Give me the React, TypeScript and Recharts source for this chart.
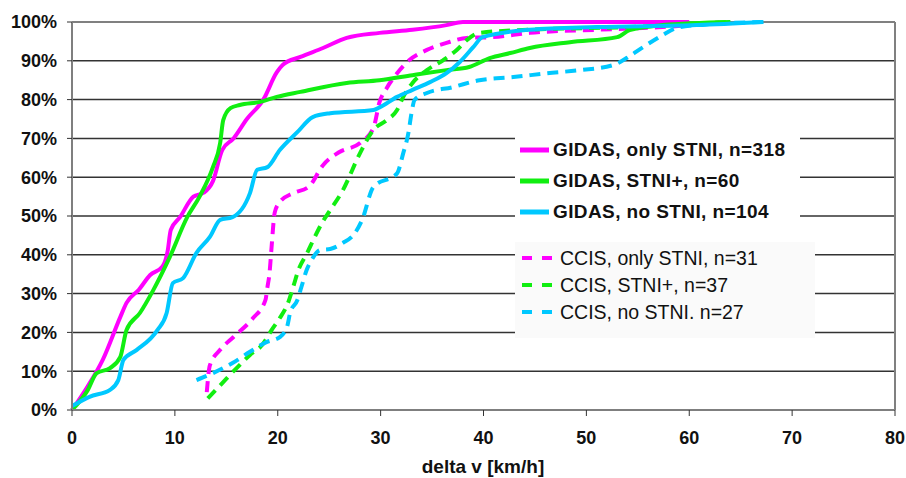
import { LineChart, Line, XAxis, YAxis, CartesianGrid, ReferenceLine } from "recharts";

// cumulative share of cases (%) by delta v (km/h)
const gidasOnlyStni = [
  { v: 0, p: 0 }, { v: 1.5, p: 6 }, { v: 3, p: 13 }, { v: 4.7, p: 24 }, { v: 5.3, p: 27.6 },
  { v: 6.5, p: 31 }, { v: 7.6, p: 34.8 }, { v: 8.8, p: 37 }, { v: 9.3, p: 41 }, { v: 9.6, p: 46.4 },
  { v: 10.5, p: 49.7 }, { v: 11.8, p: 55 }, { v: 12.8, p: 56 }, { v: 13.7, p: 59 }, { v: 14.6, p: 67 },
  { v: 15.7, p: 70 }, { v: 17, p: 75 }, { v: 18.6, p: 80 }, { v: 19.9, p: 87 }, { v: 20.5, p: 89 },
  { v: 22.2, p: 91 }, { v: 24.4, p: 93.3 }, { v: 26.7, p: 95.9 }, { v: 29.9, p: 97.2 }, { v: 33.1, p: 98 },
  { v: 36.4, p: 99.2 }, { v: 38, p: 100 }, { v: 60, p: 100 },
];

const gidasStniPlus = [
  { v: 0, p: 0 }, { v: 1.5, p: 5 }, { v: 2.4, p: 9.5 }, { v: 3.7, p: 10.8 }, { v: 4.7, p: 13.7 },
  { v: 5.3, p: 20.6 }, { v: 6.6, p: 25 }, { v: 7.9, p: 30.9 }, { v: 9.5, p: 39.4 }, { v: 11.2, p: 49.7 },
  { v: 12.4, p: 55 }, { v: 13.7, p: 62.6 }, { v: 14.4, p: 68.8 }, { v: 14.7, p: 74.7 }, { v: 15.4, p: 77.8 },
  { v: 16.3, p: 78.6 }, { v: 18.3, p: 79.4 }, { v: 19.9, p: 80.7 }, { v: 22.2, p: 82 }, { v: 26.7, p: 84.3 },
  { v: 29.9, p: 85 }, { v: 33.1, p: 86.3 }, { v: 36.4, p: 87.6 }, { v: 38.6, p: 88.4 }, { v: 40.6, p: 90.7 },
  { v: 42.6, p: 92 }, { v: 44.5, p: 93.3 }, { v: 48.4, p: 94.8 }, { v: 53, p: 96.1 }, { v: 54.2, p: 97.9 },
  { v: 57.4, p: 99.2 }, { v: 64, p: 100 },
];

const gidasNoStni = [
  { v: 0, p: 1 }, { v: 1.7, p: 3.4 }, { v: 3.7, p: 5.2 }, { v: 4.5, p: 7.7 }, { v: 5, p: 12.9 },
  { v: 6.3, p: 15.5 }, { v: 8.3, p: 20.6 }, { v: 9.2, p: 25 }, { v: 9.8, p: 32.7 }, { v: 10.8, p: 34 },
  { v: 12.1, p: 40.5 }, { v: 13.4, p: 44.6 }, { v: 14.4, p: 49 }, { v: 15.6, p: 49.7 }, { v: 17.3, p: 55.9 },
  { v: 18, p: 61.9 }, { v: 19, p: 62.6 }, { v: 20.2, p: 67 }, { v: 21.9, p: 71.6 }, { v: 23.4, p: 75.5 },
  { v: 25.1, p: 76.5 }, { v: 29.3, p: 77.3 }, { v: 29.9, p: 78 }, { v: 31.6, p: 80.7 }, { v: 33.1, p: 82.5 },
  { v: 34.8, p: 84.5 }, { v: 36.4, p: 86.8 }, { v: 37.7, p: 89.7 }, { v: 39, p: 93.5 }, { v: 39.9, p: 96.1 },
  { v: 44.5, p: 98 }, { v: 51, p: 98.7 }, { v: 60.7, p: 99.2 }, { v: 67.2, p: 100 },
];

const ccisOnlyStni = [
  { v: 13.1, p: 4.6 }, { v: 13.4, p: 11.5 }, { v: 14.4, p: 15.5 }, { v: 15.7, p: 18.8 }, { v: 17.6, p: 23.7 },
  { v: 18.8, p: 28.3 }, { v: 19, p: 31.7 }, { v: 19.2, p: 35.3 }, { v: 19.4, p: 42 }, { v: 19.7, p: 50.8 },
  { v: 20.2, p: 53.6 }, { v: 21.5, p: 55.9 }, { v: 23, p: 57.5 }, { v: 24.4, p: 63.1 }, { v: 26, p: 66.5 },
  { v: 28, p: 68.8 }, { v: 29.3, p: 72.7 }, { v: 29.9, p: 79.4 }, { v: 30.6, p: 83 }, { v: 31.6, p: 86.8 },
  { v: 32.8, p: 90.2 }, { v: 34.5, p: 92.8 }, { v: 36.4, p: 94.6 }, { v: 38.4, p: 95.9 }, { v: 40.9, p: 96.1 },
  { v: 44.5, p: 97.2 }, { v: 51, p: 98 }, { v: 57.4, p: 98.7 }, { v: 63.6, p: 100 },
];

const ccisStniPlus = [
  { v: 13.2, p: 3 }, { v: 14.7, p: 7.2 }, { v: 16, p: 10.8 }, { v: 17.3, p: 14.2 }, { v: 18.5, p: 16.8 },
  { v: 19.4, p: 20.6 }, { v: 20.2, p: 23.7 }, { v: 21, p: 27.6 }, { v: 21.5, p: 31.7 }, { v: 22, p: 36 },
  { v: 22.9, p: 40.7 }, { v: 23.6, p: 44.6 }, { v: 24.3, p: 48.2 }, { v: 25.1, p: 51.5 }, { v: 26.3, p: 56.5 },
  { v: 28, p: 66.2 }, { v: 29.3, p: 72.2 }, { v: 30.6, p: 74.7 }, { v: 31.6, p: 77.3 }, { v: 32.2, p: 80.7 },
  { v: 33.1, p: 84.3 }, { v: 34.5, p: 87.6 }, { v: 36.1, p: 90.2 }, { v: 37.4, p: 92.8 }, { v: 38.4, p: 95.4 },
  { v: 39.6, p: 97.2 }, { v: 44.5, p: 98 }, { v: 54.2, p: 98.7 }, { v: 64, p: 100 },
];

const ccisNoStni = [
  { v: 12.1, p: 7.7 }, { v: 13.7, p: 9.5 }, { v: 15.6, p: 12.1 }, { v: 17.3, p: 15 }, { v: 18.9, p: 17.5 },
  { v: 20.2, p: 18.8 }, { v: 20.9, p: 21.4 }, { v: 21.2, p: 25 }, { v: 21.9, p: 28.3 }, { v: 22.3, p: 31.7 },
  { v: 22.8, p: 36 }, { v: 23.3, p: 38.7 }, { v: 24.1, p: 41.2 }, { v: 25.1, p: 41.5 }, { v: 26.3, p: 43 },
  { v: 27.5, p: 45.6 }, { v: 28.2, p: 49 }, { v: 29.3, p: 57.5 }, { v: 31.6, p: 61 }, { v: 32.2, p: 66.2 },
  { v: 32.7, p: 71.4 }, { v: 33, p: 76.5 }, { v: 33.3, p: 79.9 }, { v: 34.5, p: 81.7 }, { v: 37, p: 83.2 },
  { v: 39.6, p: 85 }, { v: 42.9, p: 85.8 }, { v: 46.2, p: 86.8 }, { v: 49.4, p: 87.6 }, { v: 52.6, p: 88.9 },
  { v: 53.9, p: 90.7 }, { v: 55.5, p: 93.5 }, { v: 57.4, p: 96.6 }, { v: 58.8, p: 98.5 }, { v: 60.7, p: 99.2 },
  { v: 67.2, p: 100 },
];

const xTicks = [0, 10, 20, 30, 40, 50, 60, 70, 80];
const yTicks = [0, 10, 20, 30, 40, 50, 60, 70, 80, 90, 100];

const MAGENTA = "#ff00ff";
const GREEN = "#11ee11";
const CYAN = "#00c8ff";

const gidasSeries = [
  { name: "GIDAS, only STNI, n=318", data: gidasOnlyStni, color: MAGENTA },
  { name: "GIDAS, STNI+, n=60", data: gidasStniPlus, color: GREEN },
  { name: "GIDAS, no STNI, n=104", data: gidasNoStni, color: CYAN },
];

const ccisSeries = [
  { name: "CCIS, only STNI, n=31", data: ccisOnlyStni, color: MAGENTA },
  { name: "CCIS, STNI+, n=37", data: ccisStniPlus, color: GREEN },
  { name: "CCIS, no STNI. n=27", data: ccisNoStni, color: CYAN },
];

const FONT = "'Liberation Sans', Arial, sans-serif";
const DASH = "11 7";

function LegendBoxes() {
  return (
    <>
      <div
        style={{
          position: "absolute", left: 515, top: 132, width: 285, height: 96,
          background: "#fff", fontFamily: FONT, fontWeight: "bold", fontSize: 19, color: "#111",
          letterSpacing: 0.4,
        }}
      >
        {gidasSeries.map((s, i) => (
          <div key={s.name} style={{ position: "absolute", left: 5, top: 6 + i * 31, display: "flex", alignItems: "center", height: 24 }}>
            <svg width={30} height={6} style={{ marginRight: 3 }}>
              <line x1={0} y1={3} x2={29} y2={3} stroke={s.color} strokeWidth={5} />
            </svg>
            <span>{s.name}</span>
          </div>
        ))}
      </div>
      <div
        style={{
          position: "absolute", left: 515, top: 242, width: 300, height: 96,
          background: "#fafafa", fontFamily: FONT, fontSize: 19.5, color: "#111",
        }}
      >
        {ccisSeries.map((s, i) => (
          <div key={s.name} style={{ position: "absolute", left: 7, top: 4 + i * 27, display: "flex", alignItems: "center", height: 24 }}>
            <svg width={32} height={6} style={{ marginRight: 6 }}>
              <line x1={0} y1={3} x2={31} y2={3} stroke={s.color} strokeWidth={4} strokeDasharray="10 10" />
            </svg>
            <span>{s.name}</span>
          </div>
        ))}
      </div>
    </>
  );
}

export default function App() {
  return (
    <div style={{ position: "absolute", left: 0, top: 0, width: 906, height: 478, background: "#fff" }}>
      <LineChart width={906} height={478} margin={{ top: 22, right: 11, left: 0, bottom: 38 }}>
        <CartesianGrid vertical={false} stroke="#333" strokeWidth={1.5} />
        <XAxis
          type="number"
          dataKey="v"
          domain={[0, 80]}
          ticks={xTicks}
          height={30}
          axisLine={{ stroke: "#7f7f7f", strokeWidth: 2 }}
          tickLine={{ stroke: "#333" }}
          tickSize={6}
          tickMargin={15}
          tick={{ fill: "#111", fontFamily: FONT, fontWeight: "bold", fontSize: 18 }}
          allowDuplicatedCategory={false}
        />
        <YAxis
          type="number"
          domain={[0, 100]}
          ticks={yTicks}
          width={72}
          axisLine={{ stroke: "#7f7f7f", strokeWidth: 2 }}
          tickLine={{ stroke: "#333" }}
          tickSize={5}
          tickMargin={10}
          tickFormatter={(t: number) => `${t}%`}
          tick={{ fill: "#111", fontFamily: FONT, fontWeight: "bold", fontSize: 18 }}
        />
        <ReferenceLine y={100} stroke="#808080" strokeWidth={2} />
        <ReferenceLine x={80} stroke="#808080" strokeWidth={2} />
        {ccisSeries.map((s) => (
          <Line
            key={s.name}
            data={s.data}
            dataKey="p"
            name={s.name}
            type="monotoneX"
            stroke={s.color}
            strokeWidth={4}
            strokeDasharray={DASH}
            dot={false}
            isAnimationActive={false}
          />
        ))}
        {gidasSeries.map((s) => (
          <Line
            key={s.name}
            data={s.data}
            dataKey="p"
            name={s.name}
            type="monotoneX"
            stroke={s.color}
            strokeWidth={4}
            dot={false}
            isAnimationActive={false}
          />
        ))}
      </LineChart>
      <LegendBoxes />
      <div
        style={{
          position: "absolute", left: 0, width: 966, top: 456, textAlign: "center",
          fontFamily: FONT, fontWeight: "bold", fontSize: 19, color: "#111",
        }}
      >
        delta v [km/h]
      </div>
    </div>
  );
}
